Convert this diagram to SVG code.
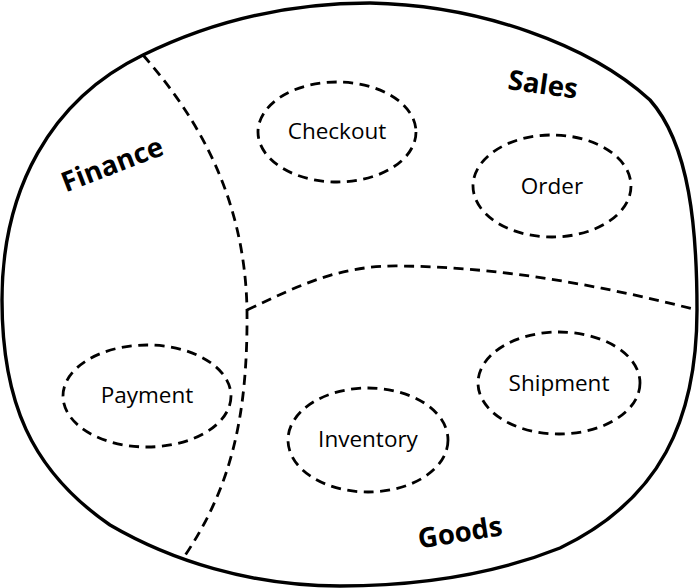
<svg xmlns="http://www.w3.org/2000/svg" width="699" height="588" viewBox="0 0 699 588">
<style>
.outer{fill:none;stroke:#000;stroke-width:3.4}
.div{fill:none;stroke:#000;stroke-width:2.8;stroke-dasharray:10 6.5}
.node{fill:none;stroke:#000;stroke-width:2.8;stroke-dasharray:10 6.5}
.nt{font-family:"Open Sans","Liberation Sans",sans-serif;font-size:22.5px;fill:#000;text-anchor:middle}
.lbl{font-family:"Open Sans","Liberation Sans",sans-serif;font-size:27.5px;font-weight:bold;fill:#000;text-anchor:middle}
</style>
<rect width="699" height="588" fill="#fff"/>
<g id="context">
<path class="outer" d="M2,300 C2,190 50,100 143,55 C220,17 300,3 370,3 C480,5 590,45 650,100 C690,145 697,230 697,310 C697,420 660,500 560,548 C480,580 400,586 340,586 C250,586 170,560 110,525 C30,470 2,400 2,300 Z"/>
</g>
<g id="connectors">
<path class="div" d="M143,55 C200,120 245,200 247,310 C248,420 230,490 182,560"/>
<path class="div" d="M247,310 C300,285 340,265 400,266 C500,267 600,285 697,310"/>
</g>
<g id="label-sales"><text class="lbl" x="543" y="94" transform="rotate(8 543 84)">Sales</text></g>
<g id="label-finance"><text class="lbl" x="112" y="174" transform="rotate(-21 112 164)">Finance</text></g>
<g id="label-goods"><text class="lbl" x="460" y="542" transform="rotate(-9 460 532)">Goods</text></g>
<g id="checkout"><ellipse class="node" cx="337" cy="132" rx="79" ry="50"/><text class="nt" x="337" y="139">Checkout</text></g>
<g id="order"><ellipse class="node" cx="552" cy="186" rx="79" ry="51"/><text class="nt" x="552" y="194">Order</text></g>
<g id="payment"><ellipse class="node" cx="147" cy="396" rx="84" ry="51"/><text class="nt" x="147" y="403">Payment</text></g>
<g id="inventory"><ellipse class="node" cx="368" cy="440" rx="80" ry="52"/><text class="nt" x="368" y="447">Inventory</text></g>
<g id="shipment"><ellipse class="node" cx="559" cy="383" rx="81" ry="51"/><text class="nt" x="559" y="391">Shipment</text></g>
</svg>
